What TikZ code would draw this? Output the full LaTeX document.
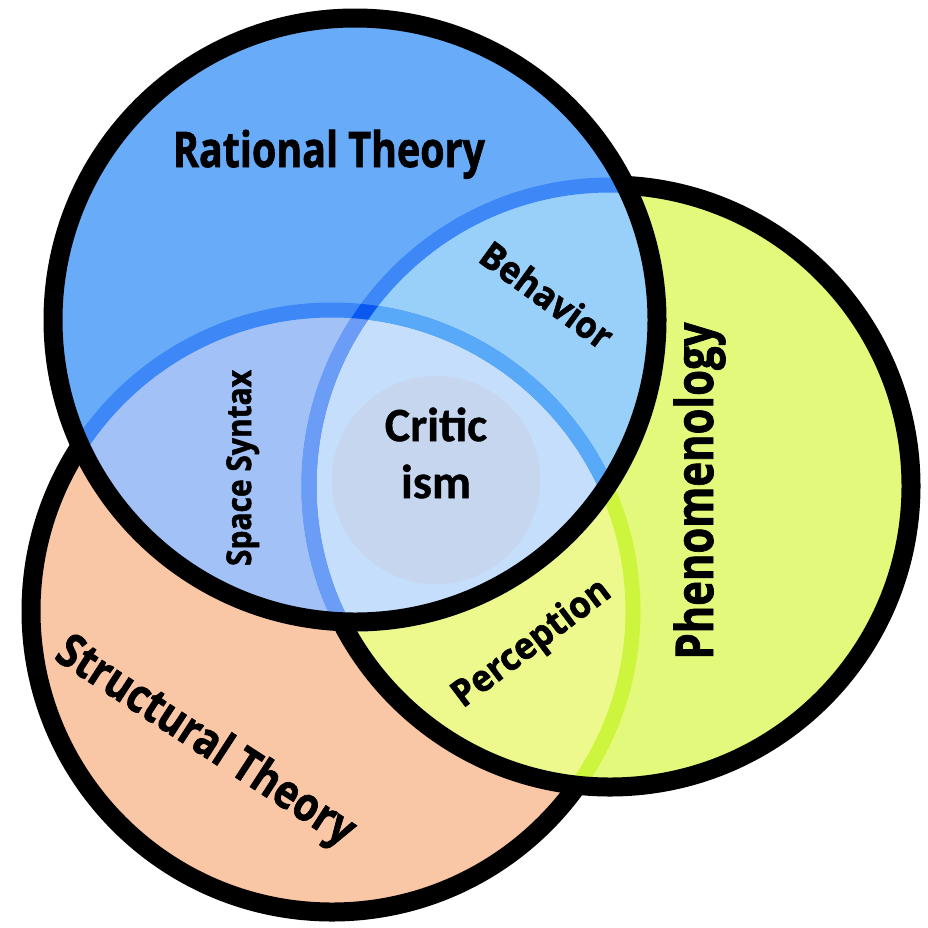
\documentclass[tikz,border=0pt]{standalone}
\usepackage{fontspec}
\setmainfont{Open Sans}[BoldFeatures={FakeBold=1.6}]
\newfontfamily\calibfont{Carlito}[BoldFeatures={FakeBold=0.8}]
\usepackage{graphicx}
\definecolor{fillO}{HTML}{FAC7A6}
\definecolor{fillG}{HTML}{E3F97B}
\definecolor{fillGO}{HTML}{EEF98D}
\definecolor{fillB}{HTML}{67ABF9}
\definecolor{fillBG}{HTML}{98D0FA}
\definecolor{fillBO}{HTML}{A2C1F6}
\definecolor{fillC}{HTML}{C4DEFC}
\definecolor{fillGrey}{HTML}{C6D6EF}
\definecolor{strkB}{HTML}{3D87F6}
\definecolor{strkBG}{HTML}{58A9F8}
\definecolor{strkBO}{HTML}{6B9CF6}
\definecolor{strkX}{HTML}{0B58F0}
\definecolor{strkY}{HTML}{CDF53E}
\newcommand\fitlabel[3]{\resizebox{#1pt}{\height}{\fontsize{#2}{#2}\selectfont\bfseries #3}}
\begin{document}
\begin{tikzpicture}[x=1pt,y=-1pt,
  blk/.style={draw=black,line width=19pt},
  innerline/.style={line width=15pt},
  lbl/.style={inner sep=0pt,anchor=base,font=\bfseries}]
\useasboundingbox (0,0) rectangle (928,927);
\coordinate (cB) at (355,320);
\coordinate (cG) at (610,486);
\coordinate (cO) at (332,611);
\def\rB{302pt}
\def\rG{301pt}
\def\rO{301pt}
% lower circles
\fill[fillO] (cO) circle (\rO);
\fill[fillG] (cG) circle (\rG);
\begin{scope}
  \clip (cO) circle (\rO);
  \fill[fillGO] (cG) circle (\rG);
\end{scope}
\begin{scope}
  \clip (cG) circle (\rG);
  \draw[innerline,strkY] (cO) circle (\rO);
\end{scope}
% top circle
\fill[fillB] (cB) circle (\rB);
\begin{scope}
  \clip (cB) circle (\rB);
  \fill[fillBG] (cG) circle (\rG);
  \fill[fillBO] (cO) circle (\rO);
  \begin{scope}
    \clip (cG) circle (\rG);
    \fill[fillC] (cO) circle (\rO);
  \end{scope}
  \fill[fillGrey] (436,480) circle (104pt);
  \draw[innerline,strkB] (cO) circle (\rO);
  \draw[innerline,strkB] (cG) circle (\rG);
  \begin{scope}
    \clip (cG) circle (\rG);
    \draw[innerline,strkBG] (cO) circle (\rO);
  \end{scope}
  \begin{scope}
    \clip (cO) circle (\rO);
    \draw[innerline,strkBO] (cG) circle (\rG);
  \end{scope}
  \begin{scope}
    \clip (cO) circle (308.5pt);
    \clip (-50,980) -- (-50,-50) -- (980,-50) -- (980,980) -- cycle (cO) circle (293.5pt);
    \draw[innerline,strkX] (cG) circle (\rG);
  \end{scope}
\end{scope}
% black outlines
\begin{scope}
  \clip (-50,980) -- (-50,-50) -- (980,-50) -- (980,980) -- cycle (cB) circle (\rB);
  \begin{scope}
    \clip (-50,980) -- (-50,-50) -- (980,-50) -- (980,980) -- cycle (cG) circle (\rG);
    \draw[blk] (cO) circle (\rO);
  \end{scope}
  \draw[blk] (cG) circle (\rG);
\end{scope}
\draw[blk] (cB) circle (\rB);
% labels
\node[lbl] (rt) at (329,167) {\fitlabel{312}{49}{Rational Theory}};
\node[lbl,rotate=-36] (bh) at (539,306) {\fitlabel{154}{37}{Behavior}};
\node[lbl,rotate=90] (ss) at (251,468) {\fitlabel{196}{34}{Space Syntax}};
\node[lbl,rotate=90] (ph) at (713,491) {\fitlabel{337}{52}{Phenomenology}};
\node[lbl,rotate=37] (pc) at (538,652) {\fitlabel{188}{37}{Perception}};
\node[lbl,rotate=-33] (st) at (198,753) {\fitlabel{346}{47}{Structural Theory}};
\node[inner sep=0pt,align=center,font=\calibfont\bfseries\fontsize{48}{57}\selectfont] (cr) at (436,453) {Critic\\ism};
\end{tikzpicture}
\end{document}
